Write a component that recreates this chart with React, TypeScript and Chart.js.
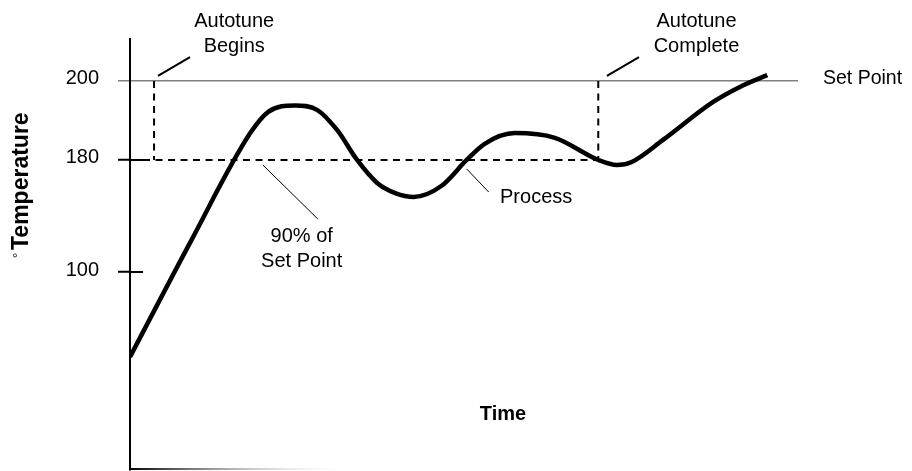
import React, { useEffect, useRef } from "react";
import { Chart, registerables, LinearScale } from "chart.js";

Chart.register(...registerables);

// ---- Data ----
const Y_TICKS = [100, 180, 200];
const SET_POINT = 200;
const NINETY_PCT = 180;

// Process curve (time in arbitrary units 0-100, temperature in °)
const processTime = [0, 9, 18.0, 20.7, 24.7, 28.0, 31.0, 34.0, 37.0, 39.7, 42.5, 46.6, 50.4, 53.1, 57.6, 63.6, 70.1, 72.9, 75.1, 79.8, 87.3, 91.3, 95.4];
const processTemp = [57.1, 121, 186.8, 192.2, 193.8, 192.7, 187.6, 180, 163.6, 156.4, 153.6, 161.4, 180, 184.1, 186.8, 185.6, 180, 176.4, 178.6, 185.1, 194.7, 198.5, 201.4];

const autotuneBeginTime = 3.6;
const autotuneCompleteTime = 70.1;
const ninetyLineStart = 1.95;

// Leader lines [time1, temp1, time2, temp2]
const leaderBegins = [4.19, 201.2, 8.98, 205.7];
const leaderComplete = [71.4, 201.2, 76.2, 205.7];
const leaderNinety = [19.9, 176.4, 28.1, 137.9];
const leaderProcess = [50.4, 173.6, 53.7, 157.1];

// Annotation labels: [text lines], anchor time, anchor temp
const labelTexts = [["Autotune", "Begins"], ["Autotune", "Complete"], ["90% of", "Set Point"], ["Process"]];
const labelTimes = [15.6, 84.8, 25.7, 60.8];
const labelTemps = [211.1, 211.1, 116.4, 153.2];

const X_TITLE = "Time";
const Y_TITLE = "Temperature";
const RIGHT_LABEL = "Set Point";

// ---- Piecewise (schematic) value axis ----
const BREAK_VALUES = [0, 100, 180, 200, 210];
const BREAK_FRACTIONS = [0, 0.4594, 0.7193, 0.9026, 1];

function interp(v: number, xs: number[], ys: number[]) {
  if (v <= xs[0]) return ys[0] + (v - xs[0]) * (ys[1] - ys[0]) / (xs[1] - xs[0]);
  for (let i = 1; i < xs.length; i++) {
    if (v <= xs[i]) return ys[i - 1] + (v - xs[i - 1]) * (ys[i] - ys[i - 1]) / (xs[i] - xs[i - 1]);
  }
  const n = xs.length - 1;
  return ys[n] + (v - xs[n]) * (ys[n] - ys[n - 1]) / (xs[n] - xs[n - 1]);
}

class PiecewiseScale extends (LinearScale as any) {
  static id = "piecewise";
  static defaults = (LinearScale as any).defaults;
  getPixelForValue(value: number) {
    return this.getPixelForDecimal(interp(value, BREAK_VALUES, BREAK_FRACTIONS));
  }
  getValueForPixel(pixel: number) {
    return interp(this.getDecimalForPixel(pixel), BREAK_FRACTIONS, BREAK_VALUES);
  }
}
Chart.register(PiecewiseScale as any);

const FONT = "'Liberation Sans', Arial, Helvetica, sans-serif";

const seg = (a: number[]) => [{ x: a[0], y: a[1] }, { x: a[2], y: a[3] }];

const extrasPlugin = {
  id: "extras",
  afterDatasetsDraw(chart: any) {
    const { ctx, chartArea, scales } = chart;
    const xs = scales.x;
    const ys = scales.y;
    ctx.save();
    // inner part of tick marks
    ctx.strokeStyle = "#000";
    ctx.lineWidth = 2;
    for (const v of Y_TICKS) {
      if (v === SET_POINT) continue;
      const py = Math.round(ys.getPixelForValue(v));
      ctx.beginPath();
      ctx.moveTo(chartArea.left, py);
      ctx.lineTo(chartArea.left + 13, py);
      ctx.stroke();
    }
    // fading time axis
    const grad = ctx.createLinearGradient(chartArea.left, 0, chartArea.left + 225, 0);
    grad.addColorStop(0, "#000");
    grad.addColorStop(1, "rgba(255,255,255,0)");
    ctx.strokeStyle = grad;
    ctx.beginPath();
    ctx.moveTo(chartArea.left - 1, chartArea.bottom - 1);
    ctx.lineTo(chartArea.left + 225, chartArea.bottom - 1);
    ctx.stroke();

    // annotation texts
    ctx.fillStyle = "#000";
    ctx.font = `20px ${FONT}`;
    ctx.textAlign = "center";
    ctx.textBaseline = "middle";
    labelTexts.forEach((lines, i) => {
      const cx = xs.getPixelForValue(labelTimes[i]);
      const cy = ys.getPixelForValue(labelTemps[i]);
      const lh = 25;
      const y0 = cy - ((lines.length - 1) * lh) / 2;
      lines.forEach((t, j) => ctx.fillText(t, cx, y0 + j * lh));
    });

    // x title
    ctx.font = `bold 20px ${FONT}`;
    ctx.fillText(X_TITLE, (chartArea.left + chartArea.right) / 2 + 39, chartArea.bottom - 56);

    // y title (rotated) with small degree sign
    ctx.translate(22, 258);
    ctx.rotate(-Math.PI / 2);
    ctx.textAlign = "left";
    ctx.font = `13px ${FONT}`;
    ctx.fillText("°", 0, -4);
    ctx.font = `bold 23px ${FONT}`;
    ctx.fillText(Y_TITLE, 8, 0);
    ctx.restore();
  },
};

const noPad = (w: number) => (s: any) => {
  s.width = w;
  s.paddingTop = 0;
  s.paddingBottom = 0;
};

export default function App() {
  const ref = useRef<HTMLCanvasElement | null>(null);
  useEffect(() => {
    if (!ref.current) return;
    const black = "#000";
    const dashStyle = { borderColor: black, borderWidth: 2, borderDash: [7, 5.5], pointRadius: 0, fill: false };
    const leaderStyle = (w: number) => ({ borderColor: black, borderWidth: w, pointRadius: 0, fill: false });
    const chart = new Chart(ref.current, {
      type: "line",
      data: {
        datasets: [
          {
            label: "Process",
            data: processTime.map((t, i) => ({ x: t, y: processTemp[i] })),
            borderColor: black,
            borderWidth: 4.5,
            pointRadius: 0,
            cubicInterpolationMode: "monotone",
            fill: false,
          },
          { label: "90% of Set Point", data: [{ x: ninetyLineStart, y: NINETY_PCT }, { x: autotuneCompleteTime, y: NINETY_PCT }], ...dashStyle },
          { label: "Autotune Begins", data: [{ x: autotuneBeginTime, y: SET_POINT }, { x: autotuneBeginTime, y: NINETY_PCT }], ...dashStyle },
          { label: "Autotune Complete", data: [{ x: autotuneCompleteTime, y: SET_POINT }, { x: autotuneCompleteTime, y: NINETY_PCT }], ...dashStyle },
          { label: "l1", data: seg(leaderBegins), ...leaderStyle(2) },
          { label: "l2", data: seg(leaderComplete), ...leaderStyle(2) },
          { label: "l3", data: seg(leaderNinety), ...leaderStyle(1) },
          { label: "l4", data: seg(leaderProcess), ...leaderStyle(1) },
        ] as any,
      },
      options: {
        animation: false,
        responsive: false,
        devicePixelRatio: 1,
        layout: { padding: { top: 39, bottom: 1, left: 0, right: 0 }, autoPadding: false },
        plugins: { legend: { display: false }, tooltip: { enabled: false } },
        elements: { line: { tension: 0 } },
        scales: {
          x: { type: "linear", min: 0, max: 100, display: false },
          y: {
            type: "piecewise" as any,
            position: "left",
            min: 0,
            max: 210,
            afterBuildTicks: (s: any) => { s.ticks = Y_TICKS.map((v) => ({ value: v })); },
            afterFit: noPad(130),
            ticks: {
              callback: (v: any) => String(v),
              font: { size: 20, family: FONT },
              color: black,
              padding: 19,
              labelOffset: -2,
            },
            grid: {
              drawOnChartArea: true,
              color: (c: any) => (c.tick && c.tick.value === SET_POINT ? "#808080" : "rgba(0,0,0,0)"),
              lineWidth: 1.5,
              tickColor: (c: any) => (c.tick && c.tick.value === SET_POINT ? "#808080" : black),
              tickWidth: (c: any) => (c.tick && c.tick.value === SET_POINT ? 1.5 : 2),
              tickLength: 12,
            },
            border: { display: true, color: black, width: 2 },
          },
          y2: {
            type: "piecewise" as any,
            position: "right",
            min: 0,
            max: 210,
            afterBuildTicks: (s: any) => { s.ticks = [{ value: SET_POINT }]; },
            afterFit: noPad(114),
            ticks: {
              callback: () => RIGHT_LABEL,
              font: { size: 19.5, family: FONT },
              color: black,
              padding: 25,
              labelOffset: -2,
            },
            grid: { display: false, drawTicks: false, tickLength: 0 },
            border: { display: false },
          },
        },
      } as any,
      plugins: [extrasPlugin],
    });
    return () => chart.destroy();
  }, []);
  return (
    <div style={{ position: "fixed", left: 0, top: 0, width: 912, height: 471, background: "#fff" }}>
      <canvas ref={ref} width={912} height={471} style={{ display: "block", width: 912, height: 471 }} />
    </div>
  );
}
